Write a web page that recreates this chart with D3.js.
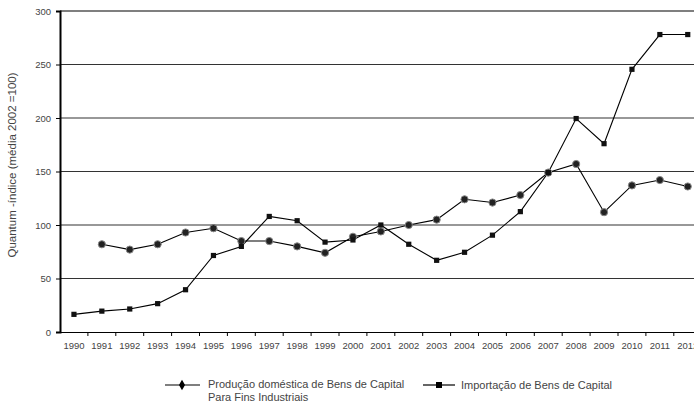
<!DOCTYPE html>
<html><head><meta charset="utf-8">
<script src="https://cdn.jsdelivr.net/npm/d3@7"></script>
<style>body{margin:0;background:#fff;} svg{display:block;font-family:"Liberation Sans",Arial,sans-serif;}</style>
</head><body>
<svg id="c" width="694" height="404"></svg>
<script>
const years = ["1990","1991","1992","1993","1994","1995","1996","1997","1998","1999","2000","2001","2002","2003","2004","2005","2006","2007","2008","2009","2010","2011","2012"];
const producao = [null,82,77,82,93,97,85,85,80,74,89,94,100,105,124,121,128,149,157,112,137,142,136];
const importacao = [16.5,19.5,21.5,26.5,39.5,71.5,80,108,104,84,86,100,82,67,74.5,90.5,112.5,149,199.5,176,245.5,278,278];
const yTicks = [0,50,100,150,200,250,300];
const legendLabels = [["Produção doméstica de Bens de Capital","Para Fins Industriais"],["Importação de Bens de Capital"]];

(function(){
const svg = d3.select("#c");
const mLeft = 60, mTop = 11, mBottom = 332;
const x = d3.scaleBand().domain(years).range([mLeft, mLeft + 23*27.9]);
const y = d3.scaleLinear().domain([0,300]).range([mBottom, mTop]);

// gridlines
svg.append("g").selectAll("line").data(yTicks.filter(d=>d>0)).join("line")
  .attr("x1", mLeft).attr("x2", 694).attr("y1", d=>y(d)).attr("y2", d=>y(d))
  .attr("stroke", d=> d===300 ? "#000" : "#333").attr("stroke-width", 1.2);

// y axis
const ya = svg.append("g").attr("transform",`translate(${mLeft},0)`)
  .call(d3.axisLeft(y).tickValues(yTicks).tickSize(4).tickPadding(5));
ya.select(".domain").attr("stroke","#000").attr("stroke-width",2);
ya.selectAll("text").attr("font-size",9.5).attr("fill","#444");

// x axis
const xa = svg.append("g").attr("transform",`translate(0,${mBottom})`)
  .call(d3.axisBottom(x).tickSize(0).tickPadding(10));
xa.select(".domain").attr("stroke","#000").attr("stroke-width",1.2);
xa.selectAll("text").attr("font-size",9.5).attr("fill","#444");
xa.selectAll("line.sep").data(years.slice(1)).join("line").attr("class","sep")
  .attr("x1",d=>x(d)).attr("x2",d=>x(d)).attr("y1",0).attr("y2",4).attr("stroke","#000");

const cx = d=> x(d) + x.bandwidth()/2;

// lines
const lineGen = d3.line().defined(d=>d[1]!=null).x(d=>cx(d[0])).y(d=>y(d[1]));
const dp = years.map((d,i)=>[d,producao[i]]);
const di = years.map((d,i)=>[d,importacao[i]]);
svg.append("path").attr("d",lineGen(dp)).attr("fill","none").attr("stroke","#000").attr("stroke-width",1.1);
svg.append("path").attr("d",lineGen(di)).attr("fill","none").attr("stroke","#000").attr("stroke-width",1.1);

// markers
svg.append("g").selectAll("circle").data(dp.filter(d=>d[1]!=null)).join("circle")
  .attr("cx",d=>cx(d[0])).attr("cy",d=>y(d[1])).attr("r",3.6)
  .attr("fill","#222").attr("stroke","#888").attr("stroke-width",1);
svg.append("g").selectAll("rect").data(di).join("rect")
  .attr("x",d=>cx(d[0])-2.6).attr("y",d=>y(d[1])-2.6).attr("width",5.2).attr("height",5.2)
  .attr("fill","#111");

// y label
svg.append("text").attr("transform","translate(16,165) rotate(-90)")
  .attr("text-anchor","middle").attr("font-size",11.5).attr("fill","#444")
  .text("Quantum -índice (média 2002 =100)");

// legend
const lg = svg.append("g");
lg.append("line").attr("x1",165).attr("x2",200).attr("y1",385).attr("y2",385).attr("stroke","#000").attr("stroke-width",1.2);
lg.append("path").attr("d",d3.symbol(d3.symbolDiamond,32)()).attr("transform","translate(182,385)").attr("fill","#000");
lg.append("text").attr("x",208).attr("y",388).attr("font-size",11).attr("fill","#444")
  .selectAll("tspan").data(legendLabels[0]).join("tspan").attr("x",208).attr("dy",(d,i)=>i===0?0:13).text(d=>d);
lg.append("line").attr("x1",423).attr("x2",455).attr("y1",385).attr("y2",385).attr("stroke","#000").attr("stroke-width",1.2);
lg.append("rect").attr("x",436).attr("y",382).attr("width",6).attr("height",6).attr("fill","#000");
lg.append("text").attr("x",461).attr("y",389).attr("font-size",11).attr("fill","#444").text(legendLabels[1][0]);
})();
</script>
</body></html>
